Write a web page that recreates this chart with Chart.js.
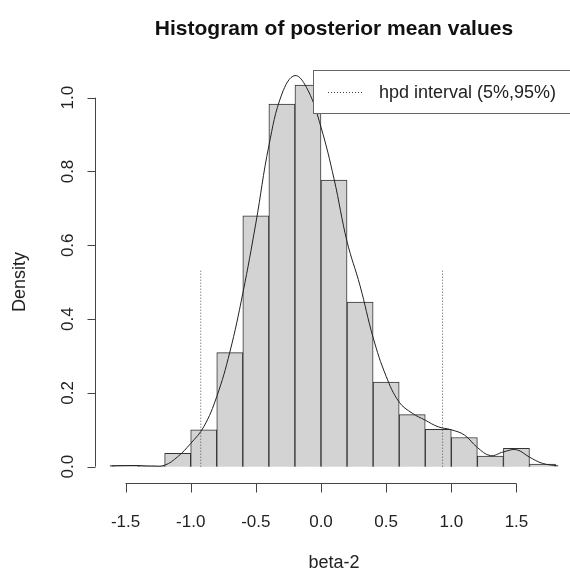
<!DOCTYPE html>
<html>
<head>
<meta charset="utf-8">
<script src="https://cdn.jsdelivr.net/npm/chart.js@4/dist/chart.umd.min.js"></script>
<style>
  body { margin: 0; background: #fff; }
  #wrap { width: 570px; height: 571px; }
</style>
</head>
<body>
<div id="wrap"><canvas id="hist" width="570" height="571"></canvas></div>
<script>
// histogram bins (centres, width 0.2) and density heights
const binCenters = [-1.5, -1.3, -1.1, -0.9, -0.7, -0.5, -0.3, -0.1, 0.1, 0.3, 0.5, 0.7, 0.9, 1.1, 1.3, 1.5, 1.7];
const binDensity = [0.004, 0.001, 0.036, 0.100, 0.309, 0.680, 0.983, 1.034, 0.777, 0.446, 0.229, 0.141, 0.101, 0.079, 0.029, 0.050, 0.007];

// kernel density curve
const densityX = [-1.62, -1.5, -1.4, -1.3, -1.2, -1.1, -1.0, -0.9, -0.8, -0.7, -0.6, -0.5, -0.4, -0.3, -0.2, -0.1, 0.0, 0.1, 0.2, 0.3, 0.4, 0.5, 0.6, 0.7, 0.8, 0.9, 1.0, 1.1, 1.2, 1.3, 1.4, 1.5, 1.6, 1.7, 1.82];
const densityY = [0.002, 0.003, 0.003, 0.002, 0.004, 0.027, 0.063, 0.108, 0.19, 0.31, 0.47, 0.66, 0.87, 1.01, 1.06, 1.02, 0.92, 0.78, 0.61, 0.49, 0.35, 0.245, 0.175, 0.145, 0.126, 0.108, 0.100, 0.086, 0.052, 0.030, 0.040, 0.046, 0.026, 0.009, 0.002];

// hpd interval (5%, 95%)
const hpdBounds = [-0.923, 0.933];
const hpdTop = 0.531;

const xTicks = [-1.5, -1.0, -0.5, 0.0, 0.5, 1.0, 1.5];
const yTicks = [0.0, 0.2, 0.4, 0.6, 0.8, 1.0];

const FONT = '"Liberation Sans", Arial, Helvetica, sans-serif';

// R-style axes, title and legend drawn on top of the chart area
const rDecor = {
    id: 'rDecor',
    afterDraw(chart) {
        const ctx = chart.ctx;
        const xs = chart.scales.x;
        const ys = chart.scales.y;
        const area = chart.chartArea;
        ctx.save();
        ctx.strokeStyle = '#444';
        ctx.fillStyle = '#222';
        ctx.lineWidth = 1;

        // y axis
        const ax = Math.round(area.left) + 0.5;
        ctx.beginPath();
        ctx.moveTo(ax, ys.getPixelForValue(yTicks[0]));
        ctx.lineTo(ax, ys.getPixelForValue(yTicks[yTicks.length - 1]));
        yTicks.forEach(v => {
            const py = Math.round(ys.getPixelForValue(v)) + 0.5;
            ctx.moveTo(ax, py);
            ctx.lineTo(ax - 8, py);
        });
        ctx.stroke();
        ctx.font = '17px ' + FONT;
        ctx.textAlign = 'center';
        ctx.textBaseline = 'middle';
        yTicks.forEach(v => {
            ctx.save();
            ctx.translate(68, ys.getPixelForValue(v));
            ctx.rotate(-Math.PI / 2);
            ctx.fillText(v.toFixed(1), 0, 0);
            ctx.restore();
        });

        // x axis
        const ay = Math.round(area.bottom) + 0.5;
        ctx.beginPath();
        ctx.moveTo(xs.getPixelForValue(xTicks[0]), ay);
        ctx.lineTo(xs.getPixelForValue(xTicks[xTicks.length - 1]), ay);
        xTicks.forEach(v => {
            const px = Math.round(xs.getPixelForValue(v)) + 0.5;
            ctx.moveTo(px, ay);
            ctx.lineTo(px, ay + 9);
        });
        ctx.stroke();
        xTicks.forEach(v => {
            ctx.fillText(v.toFixed(1), xs.getPixelForValue(v), 522);
        });

        // axis titles
        ctx.font = '18px ' + FONT;
        ctx.fillText('beta-2', 334, 563);
        ctx.save();
        ctx.translate(20, 282);
        ctx.rotate(-Math.PI / 2);
        ctx.fillText('Density', 0, 0);
        ctx.restore();

        // main title
        ctx.font = 'bold 21px ' + FONT;
        ctx.textBaseline = 'alphabetic';
        ctx.fillStyle = '#111';
        ctx.fillText('Histogram of posterior mean values', 334, 35);

        // legend box
        ctx.fillStyle = '#fff';
        ctx.strokeStyle = '#666';
        ctx.fillRect(313, 70, 270, 43);
        ctx.strokeRect(313.5, 70.5, 270, 43);
        ctx.strokeStyle = '#444';
        ctx.setLineDash([1, 2]);
        ctx.beginPath();
        ctx.moveTo(328, 92.5);
        ctx.lineTo(364, 92.5);
        ctx.stroke();
        ctx.setLineDash([]);
        ctx.fillStyle = '#222';
        ctx.font = '18px ' + FONT;
        ctx.textAlign = 'left';
        ctx.textBaseline = 'middle';
        ctx.fillText('hpd interval (5%,95%)', 379, 93);
        ctx.restore();
    }
};

const ctx = document.getElementById('hist').getContext('2d');
new Chart(ctx, {
    type: 'bar',
    data: {
        datasets: [
            {
                type: 'line',
                label: 'density',
                data: densityX.map((x, i) => ({ x: x, y: densityY[i] })),
                borderColor: '#222',
                borderWidth: 1,
                pointRadius: 0,
                tension: 0.4,
                fill: false,
                order: 0
            },
            {
                type: 'line',
                label: 'hpd low',
                data: [{ x: hpdBounds[0], y: 0 }, { x: hpdBounds[0], y: hpdTop }],
                borderColor: '#555',
                borderWidth: 1,
                borderDash: [1, 2],
                pointRadius: 0,
                fill: false,
                order: 1
            },
            {
                type: 'line',
                label: 'hpd high',
                data: [{ x: hpdBounds[1], y: 0 }, { x: hpdBounds[1], y: hpdTop }],
                borderColor: '#555',
                borderWidth: 1,
                borderDash: [1, 2],
                pointRadius: 0,
                fill: false,
                order: 1
            },
            {
                label: 'histogram',
                data: binCenters.map((x, i) => ({ x: x, y: binDensity[i] })),
                backgroundColor: '#d3d3d3',
                borderColor: '#333',
                borderWidth: 1,
                barPercentage: 1.0,
                categoryPercentage: 1.0,
                grouped: false,
                order: 2
            }
        ]
    },
    options: {
        responsive: false,
        animation: false,
        layout: { padding: { left: 94.8, right: 0, top: 43, bottom: 88 } },
        scales: {
            x: { type: 'linear', min: -1.736, max: 1.911, offset: false, display: false },
            y: { type: 'linear', min: -0.0442, max: 1.1482, display: false }
        },
        plugins: {
            legend: { display: false },
            title: { display: false },
            tooltip: { enabled: false }
        }
    },
    plugins: [rDecor]
});
</script>
</body>
</html>
